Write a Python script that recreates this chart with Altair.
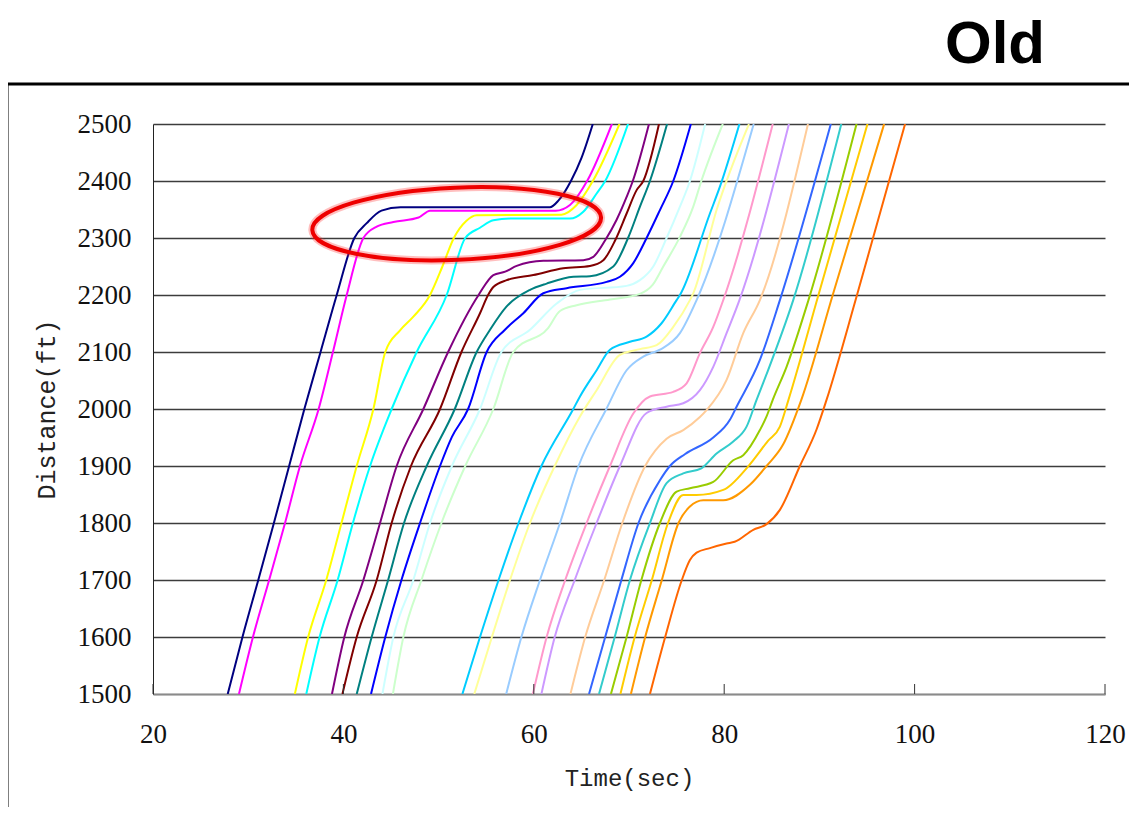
import altair as alt
import pandas as pd

# ---------------- data (time sec, distance ft) ----------------
X_TICKS = [20, 40, 60, 80, 100, 120]
Y_TICKS = [1500, 1600, 1700, 1800, 1900, 2000, 2100, 2200, 2300, 2400, 2500]

V01 = [(27.85, 1500), (29.4, 1600), (31.06, 1700), (32.7, 1800), (34.3, 1900), (35.9, 2000),
       (37.6, 2100), (39.3, 2200), (41.15, 2300), (42.45, 2326), (44.0, 2348), (46.0, 2354),
       (61.7, 2354), (62.6, 2366), (63.9, 2400), (65.0, 2440), (66.2, 2500)]
V02 = [(29.03, 1500), (30.5, 1600), (32.2, 1700), (33.87, 1800), (35.44, 1900), (37.4, 2000),
       (38.9, 2100), (40.35, 2200), (42.1, 2300), (43.5, 2320), (45.25, 2328), (47.9, 2336),
       (49.1, 2348), (62.3, 2348), (63.8, 2358), (65.6, 2400), (68.2, 2500)]
V03 = [(34.9, 1500), (36.3, 1600), (38.2, 1700), (39.8, 1800), (41.4, 1900), (43.15, 2000),
       (44.4, 2100), (45.95, 2138), (47.35, 2162), (49.1, 2200), (50.4, 2250), (51.6, 2300),
       (52.9, 2330), (54.0, 2340), (62.9, 2341), (64.5, 2358), (66.2, 2400), (69.0, 2500)]
V04 = [(36.1, 1500), (37.5, 1600), (39.4, 1700), (41.0, 1800), (42.8, 1900), (45.07, 2000),
       (47.7, 2100), (50.85, 2200), (52.8, 2300), (54.35, 2318), (55.75, 2331), (57.5, 2334),
       (63.8, 2334), (65.2, 2346), (66.6, 2378), (67.5, 2400), (69.9, 2500)]
V05 = [(38.8, 1500), (40.1, 1600), (42.1, 1700), (43.85, 1800), (45.6, 1900), (48.4, 2000),
       (51.0, 2100), (54.2, 2200), (55.75, 2235), (57.0, 2241), (58.2, 2251), (61.0, 2260),
       (65.2, 2261), (66.25, 2267), (67.5, 2296), (68.7, 2332), (69.75, 2372), (70.4, 2400),
       (72.1, 2500)]
V06 = [(39.9, 1500), (41.4, 1600), (43.5, 1700), (45.07, 1800), (47.1, 1900), (50.15, 2000),
       (52.4, 2100), (54.35, 2168), (55.2, 2200), (55.75, 2214), (57.15, 2226), (59.95, 2235),
       (63.1, 2247), (65.9, 2251), (67.3, 2261), (68.55, 2296), (69.75, 2343), (70.8, 2384),
       (71.5, 2400), (73.15, 2500)]
V07 = [(41.4, 1500), (42.97, 1600), (44.7, 1700), (46.37, 1800), (48.75, 1900), (51.7, 2000),
       (54.0, 2100), (55.4, 2139), (57.15, 2180), (59.6, 2209), (61.35, 2220), (64.15, 2232),
       (65.9, 2233), (68.35, 2250), (69.9, 2300), (71.15, 2355), (72.2, 2400), (74.0, 2500)]
V08 = [(42.9, 1500), (44.4, 1600), (46.1, 1700), (48.05, 1800), (50.15, 1900), (51.4, 1951),
       (53.1, 2000), (55.05, 2100), (56.97, 2139), (58.9, 2168), (61.0, 2203), (63.45, 2212),
       (67.65, 2223), (69.05, 2232), (70.45, 2256), (71.85, 2300), (73.25, 2349), (74.65, 2400),
       (76.5, 2500)]
V09 = [(44.1, 1500), (45.25, 1600), (47.35, 1700), (49.1, 1800), (51.4, 1900), (54.35, 2000),
       (56.6, 2100), (59.6, 2139), (62.4, 2185), (64.85, 2209), (69.75, 2216), (71.15, 2226),
       (72.55, 2250), (73.95, 2300), (75.35, 2355), (76.4, 2400), (78.0, 2500)]
V10 = [(45.2, 1500), (46.3, 1600), (48.2, 1700), (50.3, 1800), (52.8, 1900), (55.75, 2000),
       (57.85, 2100), (61.5, 2142), (62.75, 2172), (64.5, 2182), (68.0, 2192), (71.15, 2202),
       (72.5, 2218), (73.6, 2250), (75.35, 2302), (76.75, 2355), (77.6, 2400), (79.85, 2500)]
V11 = [(52.5, 1500), (54.35, 1600), (56.3, 1700), (58.4, 1800), (60.8, 1900), (64.15, 2000),
       (64.85, 2022), (66.6, 2068), (68.0, 2104), (70.1, 2118), (71.85, 2127), (73.4, 2150),
       (75.0, 2191), (75.35, 2200), (78.5, 2343), (79.55, 2390), (81.6, 2500)]
V12 = [(53.75, 1500), (55.6, 1600), (57.5, 1700), (59.6, 1800), (62.2, 1900), (64.85, 1987),
       (66.6, 2033), (69.05, 2095), (71.15, 2105), (72.9, 2112), (74.65, 2144), (76.4, 2191),
       (76.75, 2203), (79.2, 2349), (82.6, 2500)]
V13 = [(57.1, 1500), (58.7, 1600), (60.65, 1700), (62.75, 1800), (64.7, 1900), (67.65, 2001),
       (69.75, 2068), (71.5, 2092), (73.25, 2104), (75.35, 2133), (77.1, 2191), (83.1, 2500)]
V14 = [(59.9, 1500), (61.35, 1600), (63.3, 1700), (65.55, 1800), (68.0, 1900), (70.45, 1992),
       (72.2, 2022), (74.65, 2030), (76.05, 2045), (77.45, 2098), (78.85, 2144), (79.9, 2191),
       (85.1, 2500)]
V15 = [(60.8, 1500), (62.2, 1600), (64.3, 1700), (66.6, 1800), (69.05, 1900), (71.85, 1993),
       (73.95, 2004), (75.7, 2010), (77.45, 2033), (78.85, 2074), (80.25, 2133), (81.6, 2191),
       (86.8, 2500)]
V16 = [(63.85, 1500), (65.4, 1600), (67.4, 1700), (69.3, 1800), (71.7, 1900), (73.95, 1948),
       (75.7, 1963), (77.45, 1986), (78.15, 1998), (80.25, 2051), (82.0, 2133), (83.75, 2191),
       (88.8, 2500)]
V17 = [(65.8, 1500), (67.5, 1600), (69.2, 1700), (71.0, 1800), (73.25, 1875), (74.3, 1900),
       (75.9, 1921), (78.85, 1950), (80.6, 1981), (81.3, 2004), (83.75, 2086), (85.85, 2191),
       (91.2, 2500)]
V18 = [(66.85, 1500), (68.5, 1600), (70.1, 1700), (72.2, 1800), (73.95, 1870), (75.7, 1887),
       (77.6, 1896), (79.2, 1922), (80.95, 1943), (82.35, 1969), (83.4, 2016), (84.45, 2061),
       (87.25, 2191), (92.3, 2500)]
V19 = [(68.1, 1500), (69.75, 1600), (71.3, 1700), (73.25, 1800), (75.0, 1855), (76.4, 1861),
       (78.85, 1872), (80.95, 1910), (82.0, 1919), (83.75, 1963), (84.45, 1987), (85.1, 2016),
       (86.55, 2074), (88.85, 2191), (93.9, 2500)]
V20 = [(69.1, 1500), (70.6, 1600), (72.4, 1700), (74.1, 1800), (75.7, 1849), (77.1, 1849),
       (79.9, 1858), (82.5, 1899), (84.6, 1944), (85.85, 1969), (86.75, 2016), (89.9, 2200),
       (95.05, 2500)]
V21 = [(70.2, 1500), (71.7, 1600), (73.45, 1700), (75.2, 1800), (76.4, 1829), (77.8, 1840),
       (79.9, 1840), (82.7, 1867), (84.45, 1900), (86.2, 1938), (88.1, 2016), (91.4, 2200),
       (96.8, 2500)]
V22 = [(72.2, 1500), (73.8, 1600), (75.55, 1700), (76.4, 1735), (77.1, 1748), (78.5, 1756),
       (80.25, 1764), (81.1, 1767), (83.05, 1788), (84.45, 1798), (85.85, 1823), (87.95, 1900),
       (89.7, 1964), (90.75, 2016), (93.95, 2200), (99.0, 2500)]

TRAJECTORIES = [V01, V02, V03, V04, V05, V06, V07, V08, V09, V10, V11,
                V12, V13, V14, V15, V16, V17, V18, V19, V20, V21, V22]
COLORS = ["#000080", "#FF00FF", "#FFFF00", "#00FFFF", "#800080", "#800000", "#008080",
          "#0000FF", "#CCFFFF", "#CCFFCC", "#00CCFF", "#FFFF99", "#99CCFF", "#FF99CC",
          "#CC99FF", "#FFCC99", "#3366FF", "#33CCCC", "#99CC00", "#FFCC00", "#FF9900",
          "#FF6600"]
NAMES = [f"Vehicle {i + 1}" for i in range(len(TRAJECTORIES))]

# annotation ellipse (centre in data units)
ELLIPSE_T = [51.9]
ELLIPSE_D = [2325]

rows = []
for name, traj in zip(NAMES, TRAJECTORIES):
    for i, (t, d) in enumerate(traj):
        rows.append({"vehicle": name, "i": i, "t": t, "d": d})
df = pd.DataFrame(rows)

W, H = 952, 570

x_enc = alt.X("t:Q", scale=alt.Scale(domain=[20, 120], nice=False, zero=False),
              axis=alt.Axis(values=X_TICKS, format="d", title="Time(sec)", grid=False,
                            ticks=False, tickSize=0, labelFlush=False, labelOverlap=False,
                            domain=True, domainColor="#8a8a8a", domainWidth=1.5,
                            labelFont="Liberation Serif", labelFontSize=27, labelColor="#111",
                            labelPadding=27, titleFont="Liberation Mono", titleFontSize=24,
                            titleFontWeight="normal", titleColor="#222", titlePadding=19))
y_enc = alt.Y("d:Q", scale=alt.Scale(domain=[1500, 2500], nice=False, zero=False),
              axis=alt.Axis(values=Y_TICKS, format="d", title="Distance(ft)", grid=True,
                            gridColor="#3c3c3c", gridWidth=1.3, ticks=False, tickSize=0,
                            labelFlush=False, labelOverlap=False,
                            domain=True, domainColor="#222", domainWidth=1,
                            labelFont="Liberation Serif", labelFontSize=27, labelColor="#111",
                            labelPadding=22, titleFont="Liberation Mono", titleFontSize=25,
                            titleFontWeight="normal", titleColor="#222", titlePadding=18))

lines = alt.Chart(df).mark_line(strokeWidth=2, interpolate="monotone", clip=True).encode(
    x=x_enc, y=y_enc,
    color=alt.Color("vehicle:N", scale=alt.Scale(domain=NAMES, range=COLORS), legend=None),
    order=alt.Order("i:Q"),
)

xticks = alt.Chart(pd.DataFrame({"t": X_TICKS})).mark_rule(color="#333", strokeWidth=1).encode(
    x="t:Q", y=alt.value(H), y2=alt.value(H - 10))

ell_df = pd.DataFrame({"t": ELLIPSE_T, "d": ELLIPSE_D})
ELLIPSE_PATH = "M -1 0 A 1 0.25 0 1 0 1 0 A 1 0.25 0 1 0 -1 0"
ell_glow = alt.Chart(ell_df).mark_point(shape=ELLIPSE_PATH, size=289 ** 2, angle=357.5,
                                        filled=False, stroke="#ff3030", strokeWidth=8,
                                        opacity=0.3).encode(x="t:Q", y="d:Q")
ell = alt.Chart(ell_df).mark_point(shape=ELLIPSE_PATH, size=289 ** 2, angle=357.5,
                                   filled=False, stroke="#ee0000", strokeWidth=4,
                                   opacity=1).encode(x="t:Q", y="d:Q")

one = pd.DataFrame({"k": [0]})
frame_top = alt.Chart(one).mark_rule(color="black", strokeWidth=3).encode(
    x=alt.value(-146), x2=alt.value(W + 40), y=alt.value(-40))
frame_left = alt.Chart(one).mark_rule(color="black", strokeWidth=3).encode(
    x=alt.value(-146), y=alt.value(-41), y2=alt.value(H + 120))
title = alt.Chart(one).mark_text(text="Old", font="Liberation Sans", fontSize=60,
                                 fontWeight="bold", align="center",
                                 baseline="alphabetic", color="black").encode(
    x=alt.value(842), y=alt.value(-61))

chart = alt.layer(lines, xticks, ell_glow, ell, frame_top, frame_left, title).properties(
    width=W, height=H,
    padding={"left": 145, "top": 116, "right": 24, "bottom": 113},
    autosize=alt.AutoSizeParams(type="none"),
).configure_view(stroke=None)

chart.save("out.html", embed_options={"renderer": "svg", "actions": False})
